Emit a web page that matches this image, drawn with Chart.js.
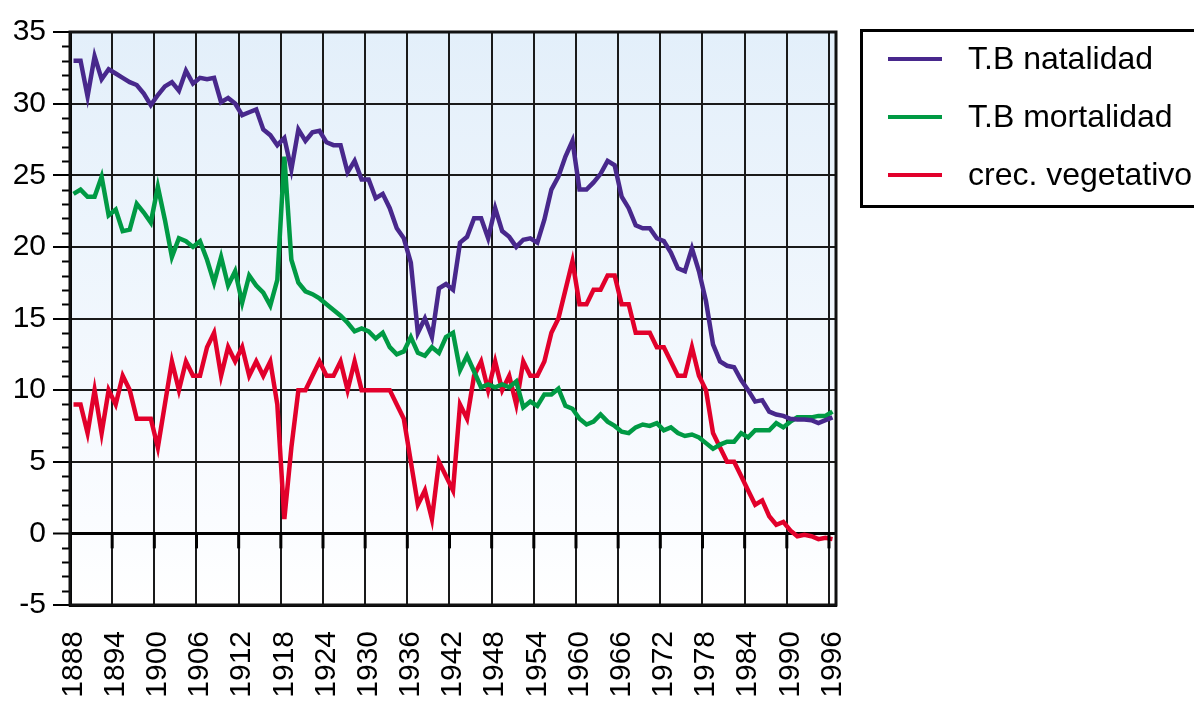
<!DOCTYPE html>
<html>
<head>
<meta charset="utf-8">
<title>Natalidad, mortalidad y crecimiento vegetativo</title>
<script src="https://cdn.jsdelivr.net/npm/chart.js@4/dist/chart.umd.min.js"></script>
<style>
  html, body { margin: 0; padding: 0; background: #fff; }
  canvas { display: block; }
</style>
</head>
<body>
<canvas id="chart" width="1194" height="701"></canvas>
<script>
"use strict";
// years on the x axis (one point per year)
const years = [1888,1889,1890,1891,1892,1893,1894,1895,1896,1897,1898,1899,
	1900,1901,1902,1903,1904,1905,1906,1907,1908,1909,1910,1911,1912,1913,1914,1915,1916,1917,1918,1919,
	1920,1921,1922,1923,1924,1925,1926,1927,1928,1929,1930,1931,1932,1933,1934,1935,1936,1937,1938,1939,
	1940,1941,1942,1943,1944,1945,1946,1947,1948,1949,1950,1951,1952,1953,1954,1955,1956,1957,1958,1959,
	1960,1961,1962,1963,1964,1965,1966,1967,1968,1969,1970,1971,1972,1973,1974,1975,1976,1977,1978,1979,
	1980,1981,1982,1983,1984,1985,1986,1987,1988,1989,1990,1991,1992,1993,1994,1995,1996];
const tickYears = [1888,1894,1900,1906,1912,1918,1924,1930,1936,1942,1948,1954,1960,1966,1972,1978,1984,1990,1996];

// T.B natalidad
const natalidad = [33.0,33.0,30.5,33.3,31.7,32.4,32.1,31.8,31.5,31.3,30.7,29.9,
	30.6,31.2,31.5,30.9,32.3,31.4,31.8,31.7,31.8,30.1,30.4,30.0,29.2,29.4,29.6,28.2,27.8,27.1,27.6,25.4,
	28.2,27.4,28.0,28.1,27.3,27.1,27.1,25.2,26.0,24.7,24.7,23.4,23.7,22.7,21.3,20.6,18.9,14.0,15.0,13.7,
	17.1,17.4,17.0,20.3,20.7,22.0,22.0,20.6,22.7,21.1,20.7,20.0,20.5,20.6,20.3,21.9,24.0,24.9,26.3,27.4,
	24.0,24.0,24.5,25.1,26.0,25.7,23.5,22.7,21.5,21.3,21.3,20.6,20.4,19.6,18.5,18.3,19.9,18.3,16.2,13.2,
	12.0,11.7,11.6,10.7,10.0,9.2,9.3,8.5,8.3,8.2,8.0,7.95,7.95,7.9,7.7,7.9,8.1];

// T.B mortalidad
const mortalidad = [23.7,24.0,23.5,23.5,24.9,22.2,22.6,21.1,21.2,23.0,22.4,21.7,
	24.2,21.9,19.3,20.6,20.4,20.0,20.4,19.1,17.5,19.3,17.3,18.3,16.1,18.0,17.3,16.8,15.9,17.7,26.3,19.1,
	17.5,16.9,16.7,16.4,16.0,15.6,15.2,14.7,14.1,14.3,14.1,13.6,14.0,13.0,12.5,12.7,13.7,12.6,12.4,13.0,
	12.6,13.7,14.0,11.4,12.4,11.3,10.2,10.4,10.2,10.4,10.2,10.6,8.8,9.2,8.9,9.7,9.7,10.1,8.9,8.7,
	8.0,7.6,7.8,8.3,7.8,7.5,7.1,7.0,7.4,7.6,7.5,7.7,7.2,7.4,7.0,6.8,6.9,6.7,6.3,5.9,
	6.2,6.4,6.4,7.0,6.7,7.2,7.2,7.2,7.7,7.4,7.8,8.1,8.1,8.1,8.2,8.2,8.5];

// crec. vegetativo
const vegetativo = [9,9,7,10,7,10,9,11,10,8,8,8,
	6,9,12,10,12,11,11,13,14,11,13,12,13,11,12,11,12,9,1,6,
	10,10,11,12,11,11,12,10,12,10,10,10,10,10,9,8,5,2,3,1,
	5,4,3,9,8,11,12,10,12,10,11,9,12,11,11,12,14,15,17,19,
	16,16,17,17,18,18,16,16,14,14,14,13,13,12,11,11,13,11,10,7,
	6,5,5,4,3,2,2.3,1.2,0.6,0.8,0.2,-0.2,-0.1,-0.2,-0.4,-0.3,-0.4];

const seriesNames = ["T.B natalidad", "T.B mortalidad", "crec. vegetativo"];
const seriesColors = ["#48288c", "#009a44", "#e2002b"];
const seriesData = [natalidad, mortalidad, vegetativo];

const FONT = "'Liberation Sans', Arial, Helvetica, sans-serif";
Chart.defaults.font.family = FONT;
Chart.defaults.color = "#000";

// background, frame, minor ticks and the boxed legend
const decor = {
	id: "decor",
	beforeDraw(chart) {
		const a = chart.chartArea, ctx = chart.ctx;
		const g = ctx.createLinearGradient(0, a.top, 0, a.bottom);
		g.addColorStop(0, "#e3effa");
		g.addColorStop(0.85, "#fafcff");
		g.addColorStop(1, "#ffffff");
		ctx.save();
		ctx.fillStyle = g;
		ctx.fillRect(a.left, a.top, a.right - a.left, a.bottom - a.top);
		ctx.restore();
	},
	afterDraw(chart) {
		const a = chart.chartArea, ctx = chart.ctx;
		const y = chart.scales.y, xg = chart.scales.xg;
		ctx.save();
		// minor ticks on the y axis
		ctx.strokeStyle = "#000";
		ctx.lineWidth = 2;
		for (let v = y.min; v <= y.max; v++) {
			if (v % 5 === 0) continue;
			const py = Math.round(y.getPixelForValue(v)) + 0.5;
			ctx.beginPath();
			ctx.moveTo(a.left - 8, py);
			ctx.lineTo(a.left, py);
			ctx.stroke();
		}
		// small marks under the zero line
		const zy = y.getPixelForValue(0);
		ctx.lineWidth = 3;
		xg.ticks.forEach(t => {
			const px = xg.getPixelForValue(t.value);
			ctx.beginPath();
			ctx.moveTo(px, zy);
			ctx.lineTo(px, zy + 15);
			ctx.stroke();
		});
		// frame
		ctx.lineWidth = 3;
		ctx.strokeStyle = "#111";
		ctx.strokeRect(a.left, a.top, a.right - a.left, a.bottom - a.top);

		// legend box (its right side runs off the picture)
		ctx.lineWidth = 3;
		ctx.strokeStyle = "#000";
		ctx.strokeRect(861.5, 30.5, 350, 176);
		ctx.font = "32px " + FONT;
		ctx.textBaseline = "middle";
		ctx.textAlign = "left";
		chart.data.datasets.forEach((ds, i) => {
			const ly = 59 + i * 58;
			ctx.strokeStyle = ds.borderColor;
			ctx.lineWidth = 4;
			ctx.beginPath();
			ctx.moveTo(888, ly);
			ctx.lineTo(942, ly);
			ctx.stroke();
			ctx.fillStyle = "#000";
			ctx.fillText(ds.label, 968, ly + 1);
		});
		ctx.restore();
	}
};

new Chart(document.getElementById("chart"), {
	type: "line",
	data: {
		datasets: seriesData.map((vals, i) => ({
			label: seriesNames[i],
			data: years.map((yr, k) => ({ x: yr, y: vals[k] })),
			borderColor: seriesColors[i],
			backgroundColor: seriesColors[i],
			borderWidth: 4.5,
			pointRadius: 0,
			tension: 0,
			fill: false
		}))
	},
	options: {
		responsive: false,
		animation: false,
		devicePixelRatio: 1,
		layout: { padding: { left: 0, top: 32, right: 358, bottom: 0 } },
		plugins: {
			legend: { display: false },
			tooltip: { enabled: false }
		},
		scales: {
			x: {
				type: "linear",
				position: "bottom",
				min: 1887.5,
				max: 1996.5,
				afterBuildTicks: s => { s.ticks = tickYears.map(v => ({ value: v })); },
				afterFit: s => { s.height = 96; },
				ticks: {
					autoSkip: false,
					minRotation: 90,
					maxRotation: 90,
					padding: 26,
					font: { size: 30 },
					color: "#000",
					callback: v => String(v)
				},
				grid: { display: false, drawTicks: false },
				border: { display: true, color: "#000", width: 3 }
			},
			xg: {
				type: "linear",
				position: "top",
				min: 1887.5,
				max: 1996.5,
				afterBuildTicks: s => { s.ticks = tickYears.map(v => ({ value: v - 0.5 })); },
				afterFit: s => { s.height = 0; },
				ticks: { display: false },
				grid: { color: "#1a1a1a", lineWidth: 2, drawTicks: false },
				border: { display: false }
			},
			y: {
				min: -5,
				max: 35,
				afterFit: s => { s.width = 70; },
				ticks: {
					stepSize: 5,
					padding: 7,
					font: { size: 30 },
					color: "#000"
				},
				grid: {
					color: ctx => ctx.tick && ctx.tick.value === 0 ? "#000" : "#1a1a1a",
					lineWidth: ctx => ctx.tick && ctx.tick.value === 0 ? 3 : 2,
					tickLength: 17,
					tickColor: "#000",
					tickWidth: 2
				},
				border: { color: "#000", width: 3 }
			}
		}
	},
	plugins: [decor]
});
</script>
</body>
</html>
